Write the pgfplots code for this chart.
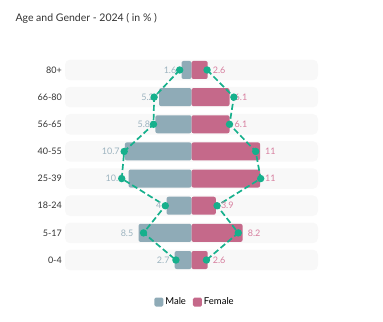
\documentclass[border=0pt]{standalone}
\usepackage{fontspec}
\setmainfont{Lato}
\usepackage{pgfplots}
\pgfplotsset{compat=1.18}

\definecolor{malec}{HTML}{8FABB7}
\definecolor{femalec}{HTML}{C5698A}
\definecolor{malelab}{HTML}{9DB4C0}
\definecolor{femalelab}{HTML}{D77F9F}
\definecolor{trackc}{HTML}{F8F8F8}
\definecolor{linec}{HTML}{16B08C}
\definecolor{catc}{HTML}{333333}

\begin{document}
\begin{tikzpicture}
% picture frame, 383 x 322 (y downwards)
\path[use as bounding box] (0,0) rectangle (383bp,-322bp);
\node[anchor=base west, font=\fontsize{10.5bp}{12bp}\selectfont, text=catc] at (12bp,-21bp) {Age and Gender - 2024 ( in \% )};

\begin{axis}[
  at={(65bp,-273.6bp)}, anchor=south west,
  scale only axis,
  width=253bp, height=217.2bp,
  xmin=-20.3, xmax=20.3,
  ymin=-0.5, ymax=7.5,
  enlargelimits=false,
  clip=false,
  axis line style={draw=none},
  xtick=\empty,
  ytick={0,...,7},
  yticklabels={0-4,5-17,18-24,25-39,40-55,56-65,66-80,80+},
  major tick length=0pt,
  yticklabel style={font=\fontsize{9bp}{10bp}\selectfont, text=catc, anchor=east, inner sep=0pt, xshift=-3bp},
  legend style={at={(0.514,-0.131)}, anchor=center, draw=none, fill=none,
    legend columns=2, font=\fontsize{9.5bp}{11bp}\selectfont,
    /tikz/every even column/.append style={column sep=5bp}},
  legend image code/.code={\fill[#1, draw=none, rounded corners=1.5bp] (0bp,-4.5bp) rectangle (9bp,4.5bp);},
]
% background tracks
\pgfplotsinvokeforeach{0,...,7}{
  \fill[trackc, rounded corners=5bp] (axis cs:-20.3,#1-0.38) rectangle (axis cs:20.3,#1+0.38);
}

\addplot[xbar, bar shift=0pt, bar width=18bp, fill=malec, draw=none, rounded corners=2bp,
  point meta=explicit symbolic, nodes near coords,
  nodes near coords style={anchor=east, inner sep=0pt, xshift=-5bp, text=malelab, font=\fontsize{9bp}{10bp}\selectfont}]
  coordinates {
  (-2.7,0) [2.7]
  (-8.5,1) [8.5]
  (-4.0,2) [4]
  (-10.1,3) [10.1]
  (-10.7,4) [10.7]
  (-5.8,5) [5.8]
  (-5.2,6) [5.2]
  (-1.6,7) [1.6]
};
\addlegendentry{Male}

\addplot[xbar, bar shift=0pt, bar width=18bp, fill=femalec, draw=none, rounded corners=2bp,
  point meta=explicit symbolic, nodes near coords,
  nodes near coords style={anchor=west, inner sep=0pt, xshift=5bp, text=femalelab, font=\fontsize{9bp}{10bp}\selectfont}]
  coordinates {
  (2.6,0) [2.6]
  (8.2,1) [8.2]
  (3.9,2) [3.9]
  (11,3) [11]
  (11,4) [11]
  (6.1,5) [6.1]
  (6.1,6) [6.1]
  (2.6,7) [2.6]
};
\addlegendentry{Female}

% comparison lines
\addplot[forget plot, color=linec, line width=1.7bp, dash pattern=on 6bp off 3bp,
  mark=*, mark size=2.8bp, mark options={solid, fill=linec, draw=linec}]
  coordinates {
  (-1.9,7) (-6.0,6) (-6.1,5) (-10.8,4) (-11.2,3) (-4.2,2) (-7.7,1) (-2.5,0)
};
\addplot[forget plot, color=linec, line width=1.7bp, dash pattern=on 6bp off 3bp,
  mark=*, mark size=2.8bp, mark options={solid, fill=linec, draw=linec}]
  coordinates {
  (2.5,7) (6.8,6) (6.1,5) (10.3,4) (11.1,3) (4.1,2) (7.5,1) (2.4,0)
};
\end{axis}
\end{tikzpicture}
\end{document}
